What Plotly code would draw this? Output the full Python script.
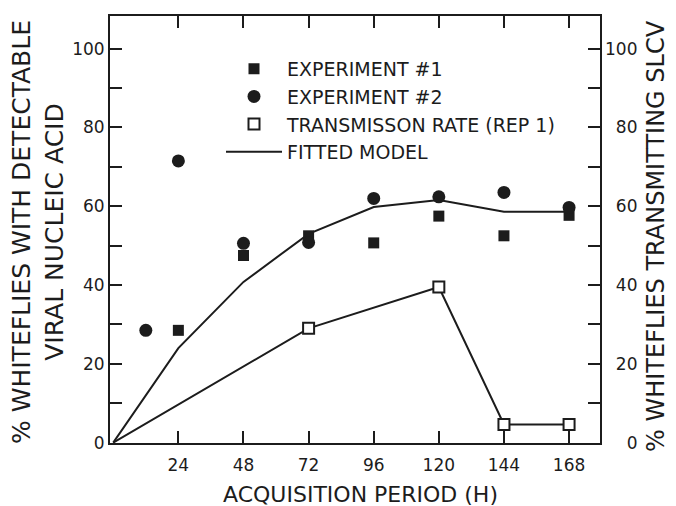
import plotly.graph_objects as go

# ---- data ----
hours_exp1 = [24, 48, 72, 96, 120, 144, 168]
exp1_pct = [28.5, 47.5, 52.5, 50.7, 57.5, 52.5, 57.7]

hours_exp2 = [12, 24, 48, 72, 96, 120, 144, 168]
exp2_pct = [28.5, 71.5, 50.6, 50.8, 62.0, 62.4, 63.5, 59.7]

hours_model = [0, 24, 48, 72, 96, 120, 144, 168]
model_pct = [0, 24.0, 40.8, 53.0, 59.8, 61.6, 58.6, 58.6]

hours_trans = [72, 120, 144, 168]
trans_pct = [29.0, 39.5, 4.6, 4.6]
origin_h = [0]
origin_pct = [0]

x_ticks = [24, 48, 72, 96, 120, 144, 168]
y_ticks = [0, 20, 40, 60, 80, 100]
y_ticklabels_left = ["0", "20", "40", "60", "80", "100"]
y_ticklabels_right = ["\u2007\u20070", "\u200720", "\u200740", "\u200760", "\u200780", "100"]

INK = "#1c1c1c"
FONT = "DejaVu Sans"

# page offset of the figure (browser body margin)
OX, OY = 8, 8
W, H = 676 - OX, 506 - OY
PL, PR, PT, PB = 110 - OX, 600 - OX, 14 - OY, 443 - OY  # plot box in figure px
PW, PH = PR - PL, PB - PT


def px(xp):
    return (xp - OX - PL) / PW


def py(yp):
    return (PB - (yp - OY)) / PH


fig = go.Figure()

fig.add_trace(go.Scatter(
    x=hours_model, y=model_pct, mode="lines", name="FITTED MODEL",
    line=dict(color=INK, width=2), legendrank=4, legendgroup="d"))
fig.add_trace(go.Scatter(
    x=origin_h + hours_trans, y=origin_pct + trans_pct, mode="lines",
    line=dict(color=INK, width=2), showlegend=False, hoverinfo="skip"))
fig.add_trace(go.Scatter(
    x=hours_exp1, y=exp1_pct, mode="markers", name="EXPERIMENT #1",
    marker=dict(symbol="square", size=11, color=INK), legendrank=1, legendgroup="a"))
fig.add_trace(go.Scatter(
    x=hours_exp2, y=exp2_pct, mode="markers", name="EXPERIMENT #2",
    marker=dict(symbol="circle", size=13, color=INK), legendrank=2, legendgroup="b"))
fig.add_trace(go.Scatter(
    x=hours_trans, y=trans_pct, mode="markers", name="TRANSMISSON RATE (REP 1)",
    marker=dict(symbol="square", size=11, color="white", line=dict(color=INK, width=2)),
    legendrank=3, legendgroup="c"))
# invisible trace to activate right axis
fig.add_trace(go.Scatter(x=hours_trans, y=trans_pct, yaxis="y2", mode="markers",
                         marker=dict(opacity=0), showlegend=False, hoverinfo="skip"))

XR = [-1.2, 179.4]
YR = [-0.1, 108.3]

fig.update_layout(
    width=W, height=H,
    margin=dict(l=PL, r=W - PR, t=PT, b=H - PB, pad=0),
    paper_bgcolor="white", plot_bgcolor="white",
    font=dict(family=FONT, color=INK, size=17),
    showlegend=True,
    legend=dict(
        x=px(221), y=py(48), xanchor="left", yanchor="top",
        bgcolor="rgba(0,0,0,0)", font=dict(size=19, family=FONT, color=INK),
        itemwidth=56, tracegroupgap=1, traceorder="normal",
    ),
    xaxis=dict(
        range=XR, tickvals=x_ticks, ticks="inside", ticklen=12, tickwidth=2,
        tickcolor=INK, showline=True, linewidth=2, linecolor=INK, mirror="ticks",
        showgrid=False, zeroline=False, tickfont=dict(size=17), ticklabelstandoff=6,
    ),
    yaxis=dict(
        range=YR, tickvals=y_ticks, ticktext=y_ticklabels_left, ticks="inside",
        ticklen=12, tickwidth=2, tickcolor=INK, showline=True, linewidth=2,
        linecolor=INK, mirror=True, showgrid=False, zeroline=False,
        minor=dict(dtick=10, tick0=0, ticks="inside", ticklen=12, tickwidth=2, tickcolor=INK),
        tickfont=dict(size=17), ticklabelstandoff=0,
    ),
    yaxis2=dict(
        range=YR, overlaying="y", side="right", tickvals=y_ticks,
        ticktext=y_ticklabels_right, ticks="inside", ticklen=12, tickwidth=2,
        tickcolor=INK, showline=False, showgrid=False, zeroline=False,
        minor=dict(dtick=10, tick0=0, ticks="inside", ticklen=12, tickwidth=2, tickcolor=INK),
        tickfont=dict(size=17), ticklabelstandoff=4,
    ),
    annotations=[
        dict(text="% WHITEFLIES WITH DETECTABLE<br>VIRAL NUCLEIC ACID", xref="paper", yref="paper",
             x=px(38), y=py(231), xanchor="center", yanchor="middle",
             textangle=-90, showarrow=False, font=dict(size=25, family=FONT, color=INK)),
        dict(text="% WHITEFLIES TRANSMITTING SLCV", xref="paper", yref="paper",
             x=px(656), y=py(235), xanchor="center", yanchor="middle",
             textangle=-90, showarrow=False, font=dict(size=24, family=FONT, color=INK)),
        dict(text="ACQUISITION PERIOD (H)", xref="paper", yref="paper",
             x=px(360), y=py(495), xanchor="center", yanchor="middle",
             showarrow=False, font=dict(size=22, family=FONT, color=INK)),
    ],
)

fig.write_html("out.html")
